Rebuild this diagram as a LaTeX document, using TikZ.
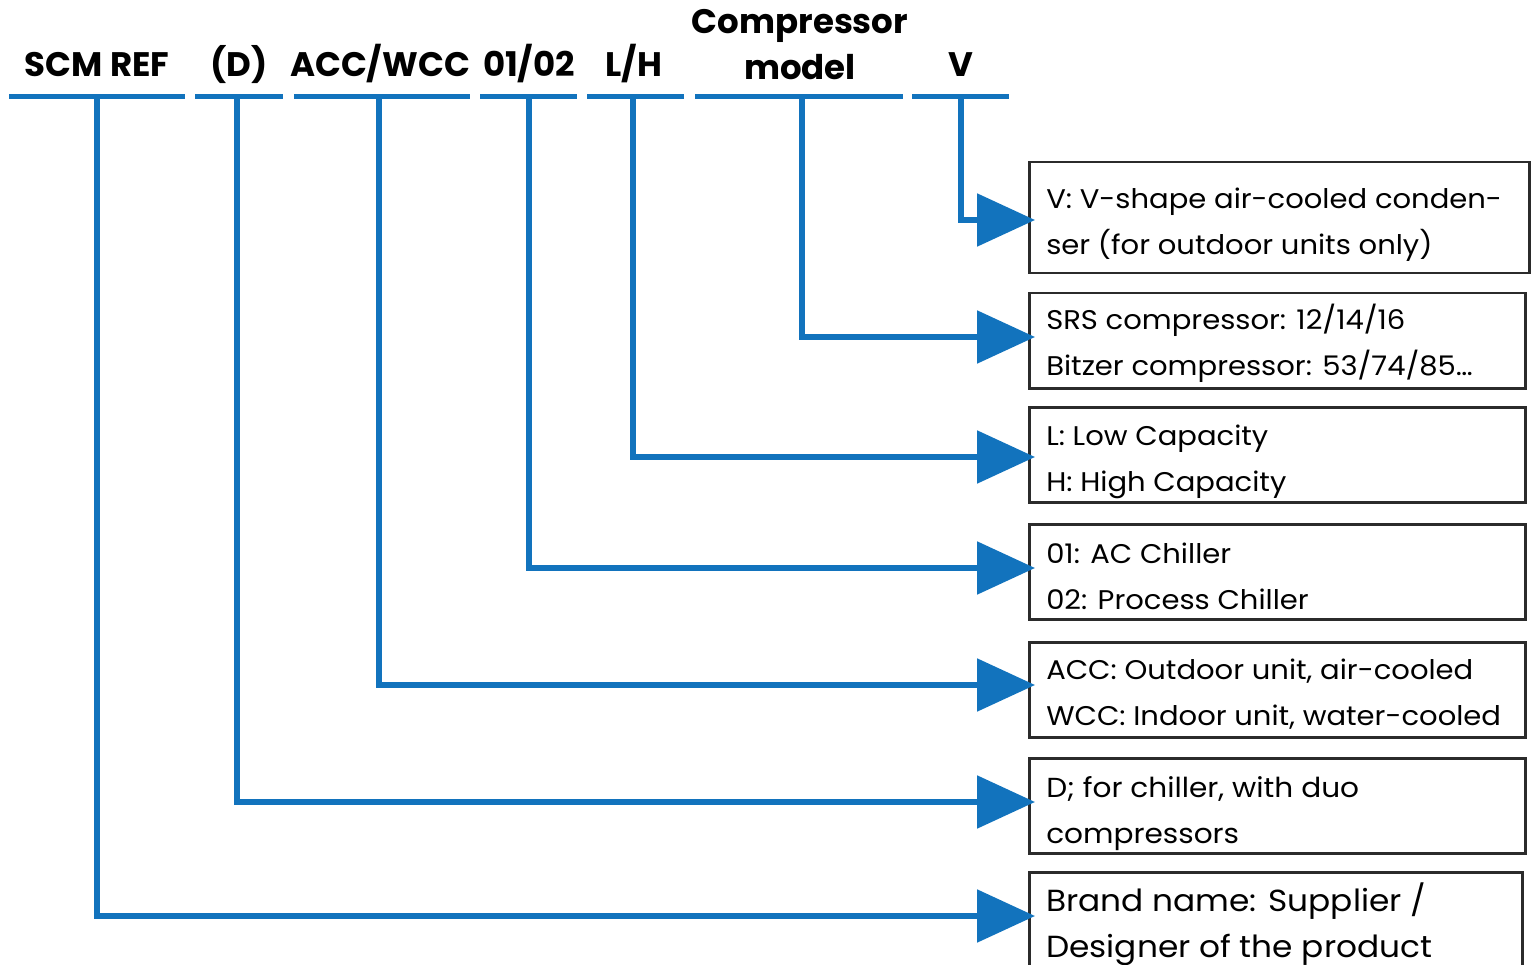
\documentclass[tikz,border=0pt]{standalone}
\usepackage{fontspec}
\setmainfont{Poppins}
\newfontfamily\boxfont{Poppins}[FakeStretch=1.075]
\usetikzlibrary{arrows.meta,calc}
\definecolor{cblue}{HTML}{1273BD}
\definecolor{cbord}{HTML}{2B2B2B}
\newcommand\bxt[5]{\begin{minipage}[t][#2][t]{#1}\raggedright\boxfont\fontsize{#4}{46pt}\selectfont\rule{0pt}{#3}#5\end{minipage}}
\begin{document}
\begin{tikzpicture}[x=1pt,y=-1pt,
  bar/.style={fill=cblue,draw=none,inner sep=0pt,minimum height=5pt},
  head/.style={font=\fontsize{34pt}{46pt}\selectfont\bfseries,inner sep=0pt,anchor=base,align=center},
  infobox/.style={draw=cbord,line width=2.5pt,inner xsep=17pt,inner ysep=0pt,anchor=north west},
  conn/.style={draw=cblue,line width=5.5pt,line join=miter,-{Triangle[length=58pt,width=52pt]}}]
\useasboundingbox (0,0) rectangle (1533,965);
% header labels
\node[head] (hSCM) at (97,77) {SCM REF};
\node[head] (hD) at (239,77) {(D)};
\node[head] (hACC) at (380,77) {ACC/WCC};
\node[head] (h0102) at (529,77) {01/02};
\node[head] (hLH) at (634,77) {L/H};
\node[head] (hComp) at (800,80) {Compressor\\model};
\node[head] (hV) at (961,77) {V};
% bars
\node[bar,minimum width=176pt] (bSCM) at (97,97) {};
\node[bar,minimum width=88pt] (bD) at (239,97) {};
\node[bar,minimum width=176pt] (bACC) at (382,97) {};
\node[bar,minimum width=97pt] (b0102) at (528.5,97) {};
\node[bar,minimum width=97pt] (bLH) at (635.5,97) {};
\node[bar,minimum width=208pt] (bComp) at (799,97) {};
\node[bar,minimum width=97pt] (bV) at (960.5,97) {};
% boxes
\node[infobox] (xV) at (1028,161) {\bxt{466pt}{111pt}{46pt}{27pt}{V: V-shape air-cooled conden-\\ser (for outdoor units only)}};
\node[infobox] (xComp) at (1028,292) {\bxt{462pt}{95pt}{36pt}{27pt}{SRS compressor: 12/14/16\\Bitzer compressor: 53/74/85…}};
\node[infobox] (xLH) at (1028,406) {\bxt{462pt}{95pt}{38pt}{27pt}{L: Low Capacity\\H: High Capacity}};
\node[infobox] (x0102) at (1028,523) {\bxt{462pt}{95pt}{39pt}{27pt}{01: AC Chiller\\02: Process Chiller}};
\node[infobox] (xACC) at (1028,641) {\bxt{462pt}{95pt}{37pt}{27pt}{ACC: Outdoor unit, air-cooled\\WCC: Indoor unit, water-cooled}};
\node[infobox] (xD) at (1028,757) {\bxt{462pt}{95pt}{39pt}{27.5pt}{D; for chiller, with duo\\compressors}};
\node[infobox] (xSCM) at (1028,871) {\bxt{459pt}{102pt}{39pt}{30.5pt}{Brand name: Supplier /\\Designer of the product}};
% arrow targets
\coordinate (tV) at ($(xV.north west)+(7,59)$);
\coordinate (tComp) at ($(xComp.north west)+(7,45)$);
\coordinate (tLH) at ($(xLH.north west)+(7,51)$);
\coordinate (t0102) at ($(x0102.north west)+(7,45)$);
\coordinate (tACC) at ($(xACC.north west)+(7,44)$);
\coordinate (tD) at ($(xD.north west)+(7,45)$);
\coordinate (tSCM) at ($(xSCM.north west)+(7,45)$);
% connectors
\draw[conn] ($(bV.center)+(0.5,0)$) |- (tV);
\draw[conn] ($(bComp.center)+(3,0)$) |- (tComp);
\draw[conn] ($(bLH.center)+(-2.5,0)$) |- (tLH);
\draw[conn] ($(b0102.center)+(0.5,0)$) |- (t0102);
\draw[conn] ($(bACC.center)+(-3,0)$) |- (tACC);
\draw[conn] ($(bD.center)+(-2,0)$) |- (tD);
\draw[conn] (bSCM.center) |- (tSCM);
\end{tikzpicture}
\end{document}
